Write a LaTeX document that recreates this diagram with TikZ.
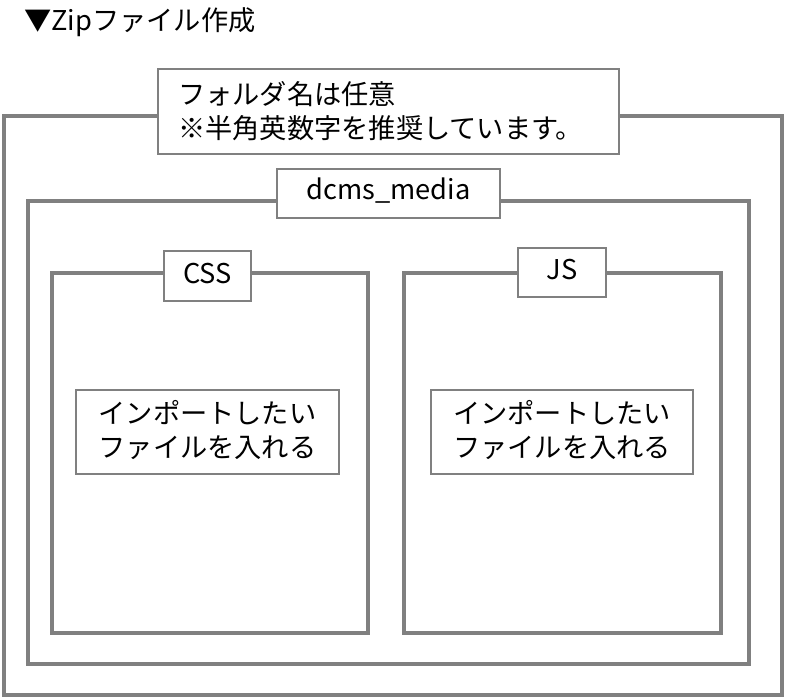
\documentclass[tikz,border=0pt]{standalone}
\usepackage{fontspec}
\setmainfont{Noto Sans CJK JP}
\usetikzlibrary{positioning}
\definecolor{framegray}{RGB}{128,128,128}
\tikzset{
  folder/.style={draw=framegray, line width=2.2pt},
  tag/.style={draw=framegray, fill=white, line width=0.6pt, inner sep=0pt},
  tagtext/.style={font=\fontsize{15.5}{19.5}\selectfont, align=center}
}
\begin{document}
\begin{tikzpicture}[x=0.02cm, y=-0.02cm]
\useasboundingbox (0,0) rectangle (786,699);
% frames
\draw[folder] (4,116) rectangle (782,695);
\draw[folder] (28,201) rectangle (749,664);
\draw[folder] (52,273) rectangle (368,633);
\draw[folder] (404,273) rectangle (721,633);
% title
\node[anchor=west, font=\fontsize{15.5}{19.5}\selectfont] (title) at (18,22) {▼Zipファイル作成};
% labels
\draw[tag] (158,69) rectangle (619,154);
\node[tagtext, align=left, anchor=west] (root) at (172,111.5) {フォルダ名は任意\\※半角英数字を推奨しています。};
\draw[tag] (277,169) rectangle (500,218);
\node[tagtext] (media) at (388.5,191) {dcms\_media};
\draw[tag] (164,251) rectangle (251,301);
\node[tagtext] (css) at (207.5,274) {CSS};
\draw[tag] (518,248) rectangle (606,297);
\node[tagtext] (js) at (562,270) {JS};
\draw[tag] (76,390) rectangle (339,474);
\node[tagtext] (cssfiles) at (207.5,430) {インポートしたい\\ファイルを入れる};
\draw[tag] (431,390) rectangle (693,474);
\node[tagtext] (jsfiles) at (562,430) {インポートしたい\\ファイルを入れる};
\end{tikzpicture}
\end{document}
